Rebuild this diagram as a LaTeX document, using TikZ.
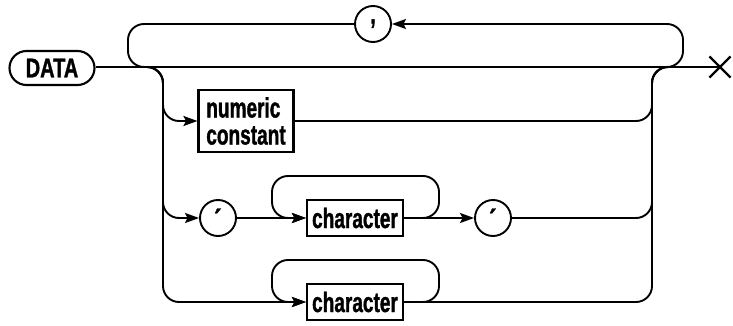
\documentclass[tikz,border=0pt]{standalone}
\usepackage{fontspec}
\newfontfamily\dfont{Liberation Sans}[FakeStretch=0.68, FakeBold=1.2]
\newfontfamily\wfont{Liberation Sans}[FakeStretch=0.74, FakeBold=1.2]
\newfontfamily\symfont{DejaVu Sans}[FakeBold=1.5]
\usetikzlibrary{arrows.meta,shapes.misc}
\begin{document}
\begin{tikzpicture}[x=1pt,y=-1pt, line width=1.9pt,
  every node/.style={font=\dfont\bfseries\fontsize{28}{28}\selectfont},
  term/.style={draw, rectangle, rounded corners=17pt, minimum width=85pt, minimum height=34pt, inner sep=0pt, line width=2.1pt},
  nt/.style={draw, rectangle, minimum height=36pt, minimum width=96pt, inner sep=3pt, line width=2.1pt},
  circ/.style={draw, circle, minimum size=36pt, inner sep=0pt},
  conn/.style={rounded corners=16pt},
  arr/.style={-{Stealth[length=14pt,width=10pt,inset=2.5pt]}}]
\useasboundingbox (0,0) rectangle (733,326);
% nodes
\node[term, font=\wfont\bfseries\fontsize{27}{27}\selectfont] (data) at (52,68) {DATA};
\node[draw, cross out, minimum size=19pt, inner sep=0pt, line width=2.2pt] (exit) at (720,67) {};
\node[circ] (comma) at (373,24) {\raisebox{5pt}{,}};
\node[nt, minimum width=95pt, minimum height=62pt, align=left, inner sep=5pt] (num) at (246,121) {numeric\\[-1pt]constant};
\node[circ] (q1) at (218,218) {\raisebox{-4pt}{\symfont\fontsize{26}{26}\selectfont ′}};
\node[nt] (ch1) at (355,218) {character};
\node[circ] (q2) at (493,218) {\raisebox{-4pt}{\symfont\fontsize{26}{26}\selectfont ′}};
\node[nt] (ch2) at (355,302) {character};
% join points on the main line
\coordinate (lj) at (144,67);
\coordinate (rj) at (670,67);
\coordinate (tj) at (664,67);
\coordinate (bl) at (146,67);
\coordinate (c1j) at (420,218);
\coordinate (c2j) at (420,302);
% main line
\draw (data.east |- 0,67) -- (exit.center);
% repeat loop with comma
\draw[arr, conn] (tj) -- (683,67) -- (683,24) -- (comma.east);
\draw[conn] (comma.west) -- (128,24) -- (128,67) -- (bl);
% left branches
\draw[arr, conn] (lj) -- (163,67) -- (163,121) -- (num.west);
\draw[arr, conn] (lj) -- (163,67) -- (163,218) -- (q1.west);
\draw[arr, conn] (lj) -- (163,67) -- (163,302) -- (ch2.west);
% row 3
\draw[arr] (q1) -- (ch1);
\draw[arr, conn] (c1j) -- (439,218) -- (439,176) -- (272,176) -- (272,218) -- (ch1.west);
\draw[arr] (ch1) -- (q2);
% row 4
\draw[arr, conn] (c2j) -- (439,302) -- (439,260) -- (272,260) -- (272,302) -- (ch2.west);
% right branches
\draw[conn] (num.east) -- (652,121) -- (652,67) -- (rj);
\draw[conn] (q2.east) -- (652,218) -- (652,67) -- (rj);
\draw[conn] (ch2.east) -- (652,302) -- (652,67) -- (rj);
\end{tikzpicture}
\end{document}
